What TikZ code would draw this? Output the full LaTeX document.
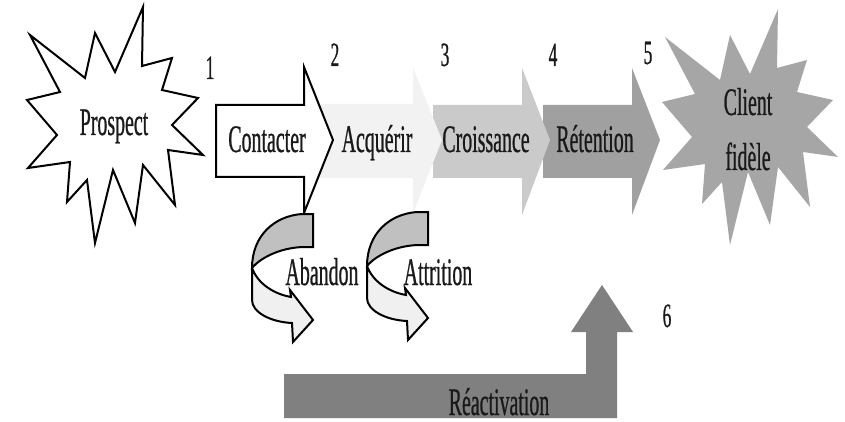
\documentclass[tikz,border=0pt]{standalone}
\usepackage{fontspec}
\newfontfamily\cond[FakeStretch=0.51,FakeBold=0.6]{Liberation Serif}
\definecolor{gAcq}{HTML}{F2F2F2}
\definecolor{gCro}{HTML}{CACACA}
\definecolor{gRet}{HTML}{A0A0A0}
\definecolor{gCli}{HTML}{A6A6A6}
\definecolor{gRea}{HTML}{808080}
\definecolor{gBand}{HTML}{C0C0C0}
\definecolor{gLow}{HTML}{F0F0F0}
\definecolor{txt}{HTML}{1A1A1A}
\begin{document}
\begin{tikzpicture}[x=1pt,y=-1pt,
  lbl/.style={font=\cond\fontsize{39}{47}\selectfont, text=txt, inner sep=0pt, anchor=base},
  numlbl/.style={font=\cond\fontsize{34}{40}\selectfont, text=txt, inner sep=0pt, anchor=base},
  outl/.style={draw=black, line width=2pt, line join=miter},
  uturn/.pic={
    \path[fill=gBand, outl] (313,214) -- (302,214) .. controls (274,216) and (252,236) .. (252,268)
      .. controls (262,256) and (284,247) .. (305,247) -- (313,247) -- cycle;
    \path[fill=gLow, outl] (252,268) -- (252,300) .. controls (252,312) and (270,322) .. (292,323)
      -- (293,342) -- (313,320) -- (290,290) -- (291,297)
      .. controls (274,294) and (258,284) .. (252,268) -- cycle;
  }]
\useasboundingbox (0,0) rectangle (845,422);
\fill[white] (0,0) rectangle (845,422);

% prospect star
\path[fill=white, outl] (143,7) -- (142,66) -- (172,58) -- (162,90) -- (198,98) -- (172,125)
  -- (203,155) -- (168,150) -- (175,205) -- (143,165) -- (135,223) -- (113,170) -- (95,243)
  -- (87,180) -- (67,202) -- (70,162) -- (28,168) -- (57,135) -- (27,100) -- (60,92)
  -- (30,35) -- (85,78) -- (95,33) -- (115,72) -- cycle;

% client star
\begin{scope}[shift={(635,2)}]
\fill[gCli] (143,7) -- (142,66) -- (172,58) -- (162,90) -- (198,98) -- (172,125)
  -- (203,155) -- (168,150) -- (175,205) -- (143,165) -- (135,223) -- (113,170) -- (95,243)
  -- (87,180) -- (67,202) -- (70,162) -- (28,168) -- (57,135) -- (27,100) -- (60,92)
  -- (30,35) -- (85,78) -- (95,33) -- (115,72) -- cycle;
\end{scope}

% stage arrows (drawn back to front)
\fill[gRet] (543,105) -- (632,105) -- (632,68) -- (660,140) -- (632,215) -- (632,178) -- (543,178) -- cycle;
\fill[gCro] (433,105) -- (522,105) -- (522,68) -- (550,140) -- (522,215) -- (522,178) -- (433,178) -- cycle;
\fill[gAcq] (320,104) -- (413,104) -- (413,68) -- (442,140) -- (413,213) -- (413,178) -- (320,178) -- cycle;
\path[fill=white, outl] (216,105) -- (304,105) -- (304,67) -- (333,140) -- (304,213) -- (304,177) -- (216,177) -- cycle;

% u-turn arrows
\pic at (0,0) {uturn};
\pic at (115,-2) {uturn};

% reactivation arrow
\fill[gRea] (284,374) -- (586,374) -- (586,332) -- (571,332) -- (602,285) -- (633,332)
  -- (617,332) -- (617,418) -- (284,418) -- cycle;

% labels
\node[lbl] (prospect) at (114,135) {Prospect};
\node[lbl] (contacter) at (267,152) {Contacter};
\node[lbl] (acquerir) at (377,152) {Acquérir};
\node[lbl] (croissance) at (486,152) {Croissance};
\node[lbl] (retention) at (595,152) {Rétention};
\node[lbl] (client) at (748,115) {Client};
\node[lbl] (fidele) at (748,170) {fidèle};
\node[lbl] (abandon) at (322,285) {Abandon};
\node[lbl] (attrition) at (438,285) {Attrition};
\node[lbl] (reactivation) at (499,415) {Réactivation};

\node[numlbl] (n1) at (210,79) {1};
\node[numlbl] (n2) at (335,66) {2};
\node[numlbl] (n3) at (445,66) {3};
\node[numlbl] (n4) at (553,66) {4};
\node[numlbl] (n5) at (648,64) {5};
\node[numlbl] (n6) at (667,327) {6};
\end{tikzpicture}
\end{document}
